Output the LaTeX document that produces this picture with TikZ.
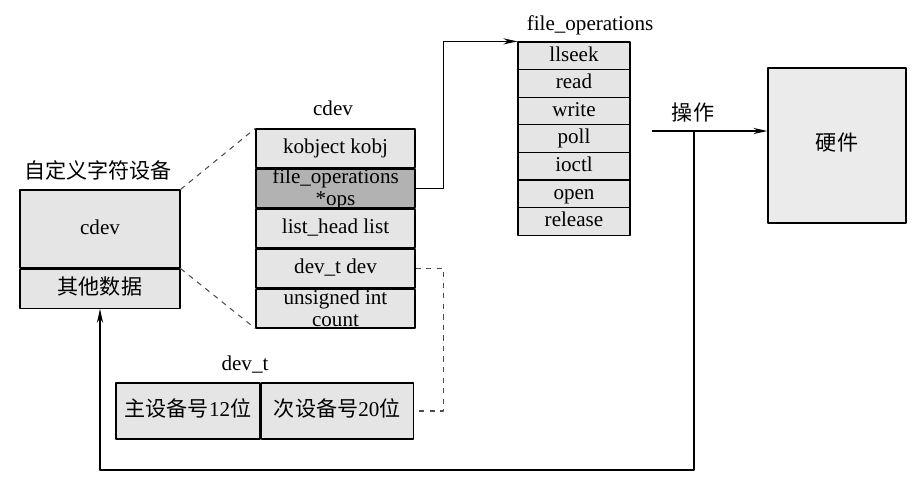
\documentclass[tikz,border=0pt]{standalone}
\usepackage{fontspec}
\setmainfont{Liberation Serif}
\newfontfamily\cjk{Noto Sans CJK SC}
\usetikzlibrary{positioning,arrows.meta}
\begin{document}
\begin{tikzpicture}[>={Stealth[length=8pt,width=3.5pt]},line join=round,x=0.2mm,y=-0.2mm,
  font=\fontsize{12}{12.5}\selectfont,
  cell/.style={draw,line width=0.7pt,fill=black!10,inner sep=0pt,minimum width=31.8mm,minimum height=7.76mm,
    align=center,text height=8.6pt,text depth=2.6pt},
  twoline/.style={text height=20pt,text depth=0.1pt},
  opcell/.style={cell,minimum width=22.4mm,minimum height=5.52mm},
  link/.style={dashed,black!70,line width=0.6pt}]
\useasboundingbox (0,0) rectangle (917,483);
% custom char device
\node[cell,minimum width=32mm,minimum height=15.6mm] (mydev) at (100,229) {cdev};
\node[cell,minimum width=32mm,minimum height=7.8mm,below=0pt of mydev] (mydata) {\cjk 其他数据};
\node at (98,170) {\cjk 自定义字符设备};
% struct cdev
\node[cell] (kobj) at (335.5,148.4) {kobject kobj};
\node[cell,twoline,fill=black!30,below=0pt of kobj] (ops) {file\_operations\\*ops};
\node[cell,below=0pt of ops] (list) {list\_head list};
\node[cell,below=0pt of list] (dev) {dev\_t dev};
\node[cell,twoline,below=0pt of dev] (count) {unsigned int\\count};
\node at (333,108) {cdev};
% file_operations
\foreach \op [count=\i] in {llseek,read,write,poll,ioctl,open,release}
  \node[opcell] (op\i) at (574,28.2+27.6*\i) {\op};
\node at (590,25) {file\_operations};
% hardware
\node[cell,minimum width=27.6mm,minimum height=31mm,fill=black!8] (hw) at (837,145.5) {\cjk 硬件};
% dev_t
\node[cell,minimum width=28.8mm,minimum height=11.2mm] (major) at (188,411) {{\cjk 主设备号}12{\cjk 位}};
\node[cell,minimum width=30.4mm,minimum height=11.2mm,right=0pt of major] (minor) {{\cjk 次设备号}20{\cjk 位}};
\node at (245,365) {dev\_t};
% connectors
\coordinate (opsrc) at (652,131);
\coordinate (optap) at (694,131);
\draw[->,line width=0.7pt] (opsrc) -- (opsrc -| hw.west);
\node at (693,112) {\cjk 操作};
\draw[->,line width=0.7pt] (optap) -- ++(0,339) -| (mydata.south);
\draw[->,line width=0.7pt] (ops.east) -- ++(28,0) |- (op1.north west);
\draw[link] (mydev.north east) -- (kobj.north west);
\draw[link] (mydev.south east) -- (count.south west);
\draw[link] (dev.east) -- ++(28,0) |- (minor.east);
\end{tikzpicture}
\end{document}
